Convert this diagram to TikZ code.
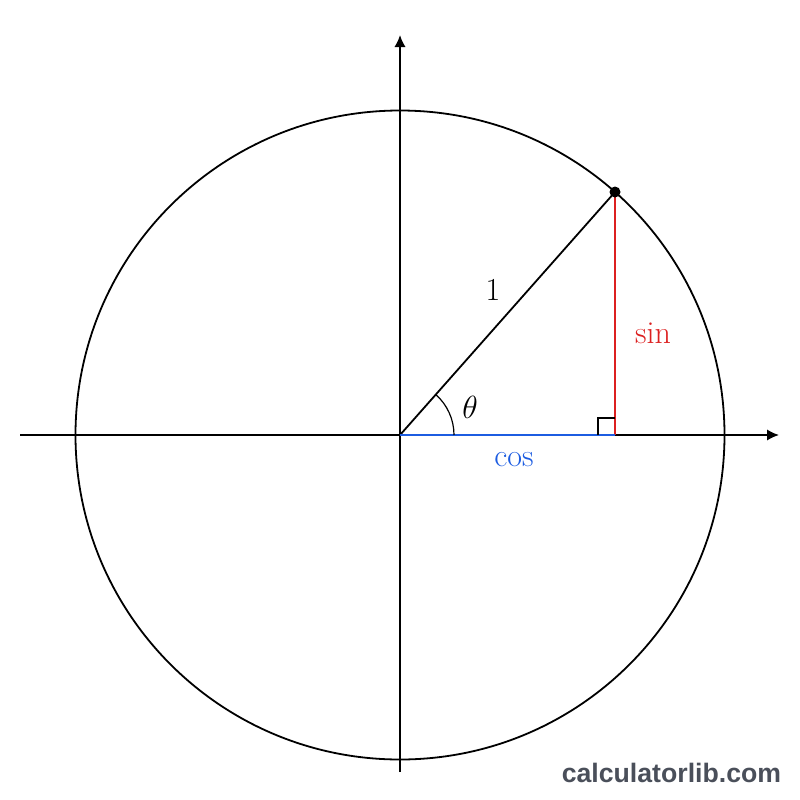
\RequirePackage{fix-cm}
\documentclass[tikz,border=0pt]{standalone}
\usepackage{fontspec}
\newfontfamily\wmfont{Liberation Sans}
\usetikzlibrary{arrows.meta}
\definecolor{sinred}{RGB}{220,32,32}
\definecolor{cosblue}{RGB}{28,92,225}
\definecolor{wmgray}{RGB}{74,79,90}
\tikzset{every picture/.style={line width=1.35pt}}
\tikzset{axisarrow/.style={-{Latex[length=9pt,width=8.5pt]}},
  bigtext/.style={inner sep=0.75pt,font=\fontsize{24}{29}\selectfont}}

\begin{document}
\begin{tikzpicture}[x=0.75pt,y=0.75pt,yscale=-1,xscale=1]
\useasboundingbox (0,0) rectangle (800,800);

% Points
\coordinate (O) at (400,435);
\coordinate (P) at (615,192);
\coordinate (F) at (615,435);
\coordinate (xleft) at (20,435);
\coordinate (xright) at (779,435);
\coordinate (ybottom) at (400,772);
\coordinate (ytop) at (400,35);

% Circle
\draw (O) circle (324.5);

% Axes
\draw [axisarrow] (xleft) -- (xright);
\draw [axisarrow] (ybottom) -- (ytop);

% Triangle
\draw (O) -- (P);
\draw [sinred] (F) -- (P);
\draw [cosblue] (O) -- (F);

% Angle and right angle marks
\draw [line width=0.9pt] (O) ++(54,0) arc (0:-48.5:54);
\draw [line width=0.9pt] (F) ++(-17,0) -- ++(0,-17) -- ++(17,0);

% Point on circle
\fill (P) circle (5.5);

% Text Node
\node (lblOne) [bigtext] at (493,290) {1};
% Text Node
\node (lblTheta) [bigtext] at (470,407) {$\theta$};
% Text Node
\node (lblSin) [bigtext,text=sinred] at (653,333) {sin};
% Text Node
\node (lblCos) [bigtext,text=cosblue] at (514,460) {cos};
% Text Node
\node (wm) [anchor=base east,inner sep=0pt,text=wmgray,font=\wmfont\bfseries\fontsize{20}{24}\selectfont] at (782,782) {calculatorlib.com};

\end{tikzpicture}
\end{document}
